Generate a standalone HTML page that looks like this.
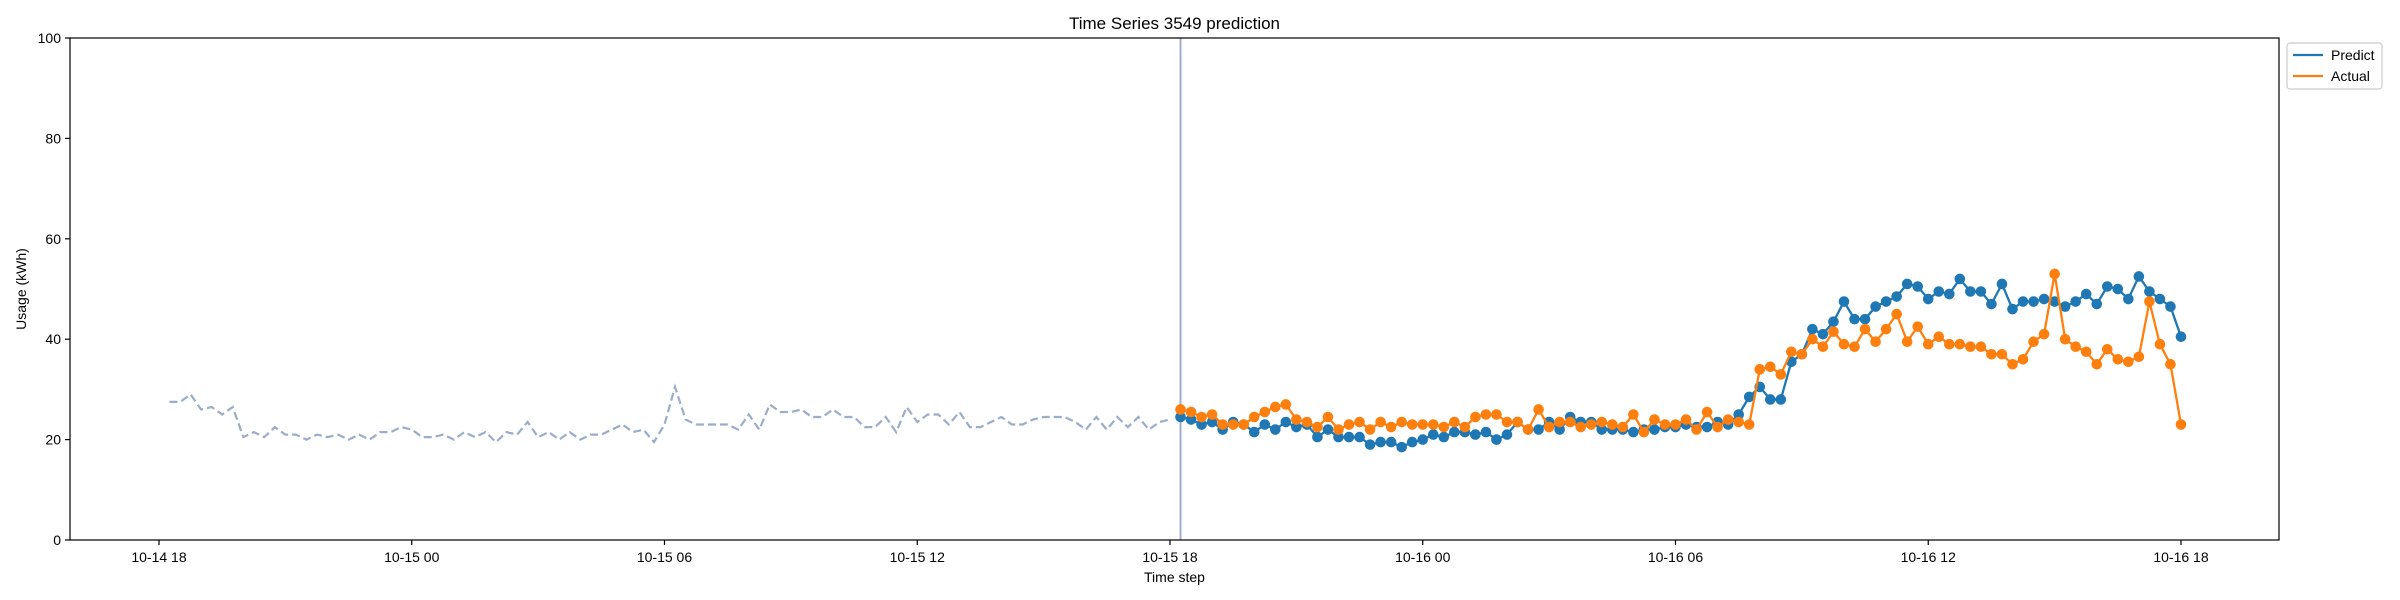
<!DOCTYPE html>
<html><head><meta charset="utf-8"><style>
body{margin:0;background:#fff;}
svg{display:block;font-family:"Liberation Sans","DejaVu Sans",sans-serif;}
</style></head><body>
<svg id="chart" width="2400" height="600"></svg>
<script>
const historyValues=[27.5,27.5,29,26,26.5,25,26.5,20.5,21.5,20.5,22.5,21,21,20,21,20.5,21,20,21,20,21.5,21.5,22.5,22,20.5,20.5,21,20,21.5,20.5,21.5,19.5,21.5,21,23.5,20.5,21.5,20,21.5,20,21,21,22,23,21.5,22,19.5,23,30.5,24,23,23,23,23,22,25,22,27,25.5,25.5,26,24.5,24.5,26,24.5,24.5,22.5,22.5,24.5,21.5,26.5,23.5,25,25,23,25.5,22.5,22.5,23.5,24.5,23,23,24,24.5,24.5,24.5,23.5,22,24.5,22,24.5,22.5,24.5,22,23.5,24];
const predictValues=[24.5,24,23,23.5,22,23.5,23,21.5,23,22,23.5,22.5,23,20.5,22,20.5,20.5,20.5,19,19.5,19.5,18.5,19.5,20,21,20.5,21.5,21.5,21,21.5,20,21,23.5,22,22,23.5,22,24.5,23.5,23.5,22,22,22,21.5,22,22,22.5,22.5,23,22.5,22.5,23.5,23,25,28.5,30.5,28,28,35.5,37,42,41,43.5,47.5,44,44,46.5,47.5,48.5,51,50.5,48,49.5,49,52,49.5,49.5,47,51,46,47.5,47.5,48,47.5,46.5,47.5,49,47,50.5,50,48,52.5,49.5,48,46.5,40.5];
const actualValues=[26,25.5,24.5,25,23,23,23,24.5,25.5,26.5,27,24,23.5,22.5,24.5,22,23,23.5,22,23.5,22.5,23.5,23,23,23,22.5,23.5,22.5,24.5,25,25,23.5,23.5,22,26,22.5,23.5,23.5,22.5,23,23.5,23,22.5,25,21.5,24,23,23,24,22,25.5,22.5,24,23.5,23,34,34.5,33,37.5,37,40,38.5,41.5,39,38.5,42,39.5,42,45,39.5,42.5,39,40.5,39,39,38.5,38.5,37,37,35,36,39.5,41,53,40,38.5,37.5,35,38,36,35.5,36.5,47.5,39,35,23];
const xTickLabels=["10-14 18","10-15 00","10-15 06","10-15 12","10-15 18","10-16 00","10-16 06","10-16 12","10-16 18"];
const yTickLabels=[0,20,40,60,80,100];

const L=70,R=2279,T=38,B=540;
const xOf=h=>159+h*(2022/48);
const yOf=v=>B-(v/100)*(B-T);
const NS="http://www.w3.org/2000/svg";
const svg=document.getElementById('chart');
function mk(tag,attrs,parent){const e=document.createElementNS(NS,tag);for(const k in attrs)e.setAttribute(k,attrs[k]);(parent||svg).appendChild(e);return e;}

const title=mk('text',{x:(L+R)/2,y:29,'text-anchor':'middle','font-size':17,fill:'#000'});
title.textContent='Time Series 3549 prediction';



xTickLabels.forEach((lab,i)=>{
  const x=xOf(i*6);
  const t=mk('line',{x1:x,x2:x,y1:B,y2:B+5,stroke:'#000','stroke-width':1.2});
  
  
  const tx=mk('text',{x:x,y:B+22,'text-anchor':'middle','font-size':14,fill:'#000'});
  tx.textContent=lab;
  
  
});
yTickLabels.forEach(v=>{
  const y=yOf(v);
  const t=mk('line',{x1:L-5,x2:L,y1:y,y2:y,stroke:'#000','stroke-width':1.2});
  
  
  const tx=mk('text',{x:L-9,y:y+5,'text-anchor':'end','font-size':14,fill:'#000'});
  tx.textContent=v;
  
  
});
const xl=mk('text',{x:(L+R)/2,y:582,'text-anchor':'middle','font-size':14,fill:'#000'});
xl.textContent='Time step';


const yl=mk('text',{x:26,y:(T+B)/2,'text-anchor':'middle','font-size':14,fill:'#000',transform:`rotate(-90 26 ${(T+B)/2})`});
yl.textContent='Usage (kWh)';



const hp=historyValues.map((v,i)=>`${xOf(0.25+i*0.25).toFixed(1)},${yOf(v).toFixed(1)}`).join(' ');
const hl=mk('polyline',{points:hp,fill:'none',stroke:'#9aadc9','stroke-width':2.2,'stroke-dasharray':'8,4'});



const sx=xOf(24.25);
const sl=mk('line',{x1:sx,x2:sx,y1:T,y2:B,stroke:'#a0aecf','stroke-width':2});



function series(vals,color,name){
  const g=mk('g',{});
  
  
  const pts=vals.map((v,i)=>`${xOf(24.25+i*0.25).toFixed(1)},${yOf(v).toFixed(1)}`).join(' ');
  const pl=mk('polyline',{points:pts,fill:'none',stroke:color,'stroke-width':2.3},g);
  
  
  vals.forEach((v,i)=>{
    const c=mk('circle',{cx:xOf(24.25+i*0.25),cy:yOf(v),r:5.3,fill:color},g);
    
    
  });
}
series(predictValues,'#1f77b4','predict');
series(actualValues,'#ff7f0e','actual');

const fr=mk('rect',{x:L,y:T,width:R-L,height:B-T,fill:'none',stroke:'#000','stroke-width':1.2});



const lg=mk('g',{});


mk('rect',{x:2287,y:43,width:95,height:46,rx:3,fill:'#fff',stroke:'#ccc','stroke-width':1.2},lg);
[['Predict','#1f77b4',60],['Actual','#ff7f0e',81]].forEach(([lab,col,y])=>{
  const ln=mk('line',{x1:2293,x2:2323,y1:y-5,y2:y-5,stroke:col,'stroke-width':2.3},lg);
  
  
  const t=mk('text',{x:2331,y:y,'font-size':14,fill:'#000'},lg);
  t.textContent=lab;
  
  
});
</script>
</body></html>
